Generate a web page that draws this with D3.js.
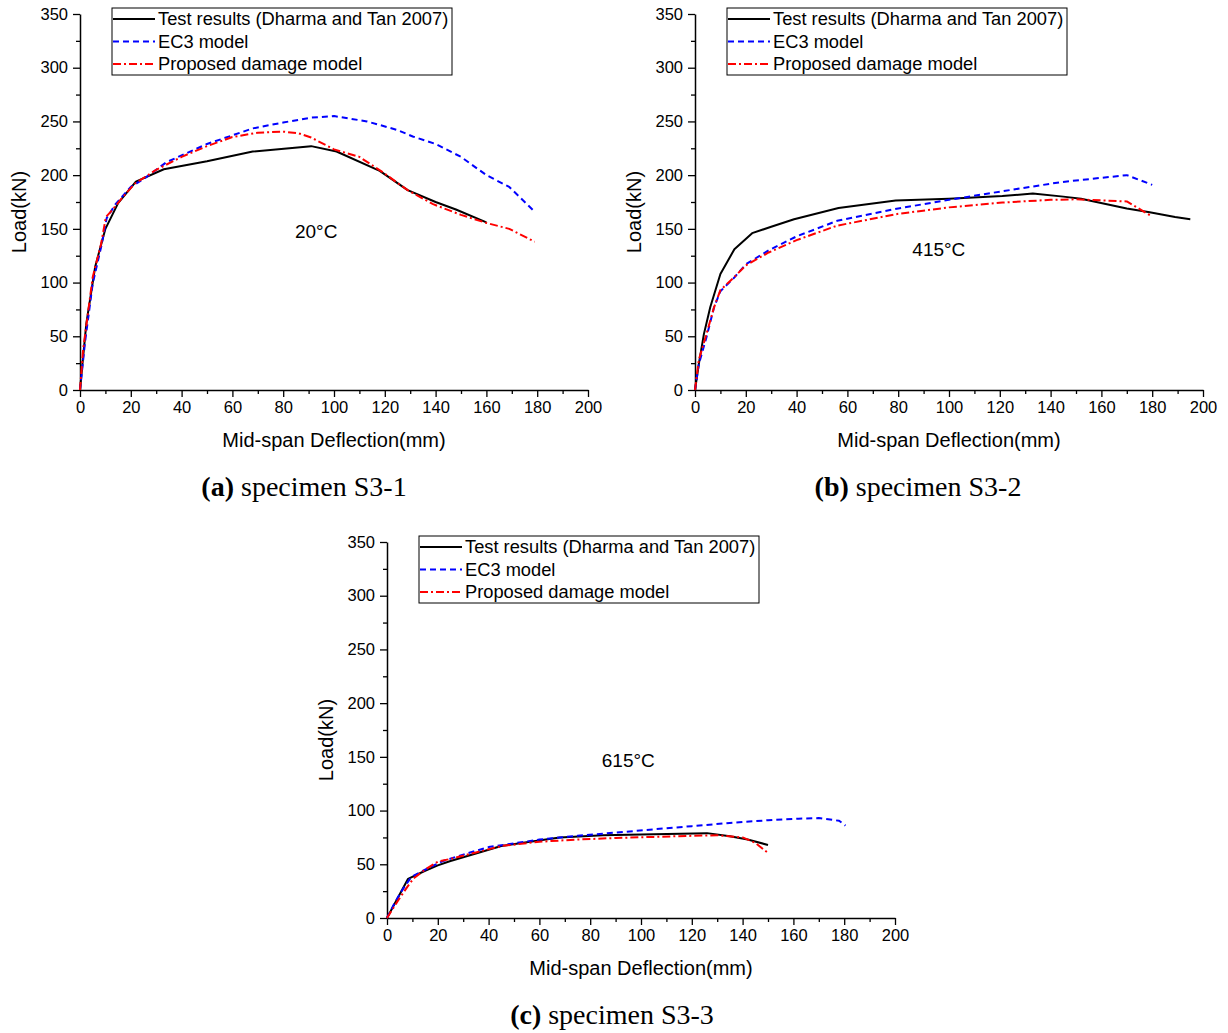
<!DOCTYPE html>
<html>
<head>
<meta charset="utf-8">
<script src="https://cdn.jsdelivr.net/npm/d3@7"></script>
<style>
  body { margin: 0; background: #fff; }
  text { font-family: "Liberation Sans", Arial, sans-serif; fill: #000; }
  text.caption { font-family: "Liberation Serif", "Times New Roman", serif; }
</style>
</head>
<body>
<div id="chart"></div>
<script>
(function() {

  let width  = 1228,
      height = 1033;

  // series names, shared by all three panels
  let seriesNames = ["Test results (Dharma and Tan 2007)", "EC3 model", "Proposed damage model"];

  let xTicks = [0, 20, 40, 60, 80, 100, 120, 140, 160, 180, 200];
  let yTicks = [0, 50, 100, 150, 200, 250, 300, 350];

  // (a) specimen S3-1, 20°C  -- [deflection mm, load kN]
  let testS31 = [[0,0],[1,25],[2.5,62],[6,115],[10,150],[15,174],[22,194],[33,205.5],[50,213],[68,222],
                 [91,227],[101,222],[118,204],[129,186],[140,175],[148,168],[160,156]];
  let ec3S31  = [[0,0],[2,45],[5,99],[8.5,135],[10.5,160],[14,173],[20,189],[26,198],[34,212],[50,229],
                 [68,243.5],[80,249],[91,253.5],[100,255],[113,250],[125,242],[131,236],[140,229],[150,217],
                 [160,200],[169,189],[179,166]];
  let dmgS31  = [[0,0],[1.2,37],[5,105],[8.3,136],[10.2,161],[12.5,167],[17,180],[21.5,192],[30,205],[40,217],
                 [50,227],[60,235.5],[70,239.5],[80,240.5],[86,239],[91,235],[100,224],[110,217],[119,203],
                 [129,186],[139,173],[150,163],[160,155.5],[169,150],[179,138]];

  // (b) specimen S3-2, 415°C
  let testS32 = [[0,0],[1.5,24],[3.5,52],[6,77],[10,108],[15.5,131],[22.5,146],[30,152],[39,159],[56.5,169.5],
                 [79,176.5],[100,178],[121,180.5],[133,183],[145,180],[152,178],[170,169],[179,165.5],[189,161],[195,159]];
  let ec3S32  = [[0,0],[1.5,24],[4.5,49],[7.5,77],[10,92],[15,103.5],[20,117],[29,130],[40,143],[56,157.5],
                 [80,169],[100,177],[121,185],[144,193.5],[170,200],[180,191]];
  let dmgS32  = [[0,0],[1.5,28],[4.5,52],[7.5,77],[10,93],[15,104],[20,116],[29,128],[40,139.5],[56,153],
                 [80,164],[100,170],[121,174.5],[140,177],[150,177.5],[170,175.5],[180,161.5]];

  // (c) specimen S3-3, 615°C
  let testS33 = [[0,0],[8.3,36.5],[15,44],[20,49],[25,53],[35,60],[45,67],[55,70.5],[68,75],[85,77],
                 [105,78],[126,79],[135,76],[142,73],[150,68]];
  let ec3S33  = [[0,0],[3,14],[6,26],[9.5,38],[15,45],[22,53],[30,59],[40,66],[50,69.5],[60,73],[75,76.5],
                 [90,79.5],[105,82.5],[120,85.5],[135,88.5],[150,91],[162,92.5],[170,93],[178,90.5],[180.5,86]];
  let dmgS33  = [[0,0],[4,15],[8,29],[10.5,37],[15,45],[20,52.5],[25,55],[35,61],[45,67],[60,71],[75,73],
                 [90,74.5],[105,75.5],[120,76.5],[130,77],[140,75],[145,70],[150,60.5]];

  // line styles for the three series
  let styles = [
    { color: "#000000", dash: null },
    { color: "#0000ff", dash: "6,4" },
    { color: "#ff0000", dash: "8,3,2,3" }
  ];

  // temperature label sits at (tx, ty) in data units
  let panels = [
    { left: 80,  top: 14,  label: "a", name: "specimen S3-1", temp: "20°C",  tx: 93, ty: 148, capX: 304, capY: 496,
      series: [testS31, ec3S31, dmgS31] },
    { left: 695, top: 14,  label: "b", name: "specimen S3-2", temp: "415°C", tx: 96, ty: 131, capX: 918, capY: 496,
      series: [testS32, ec3S32, dmgS32] },
    { left: 387, top: 542, label: "c", name: "specimen S3-3", temp: "615°C", tx: 95, ty: 147, capX: 612, capY: 1024,
      series: [testS33, ec3S33, dmgS33] }
  ];

  let plotW = 508,
      plotH = 376;

  let svg = d3.select("#chart")
    .append("svg")
    .attr("width", width)
    .attr("height", height);

  svg.append("rect")
    .attr("width", width)
    .attr("height", height)
    .attr("fill", "#fff");

  let x = d3.scaleLinear().domain([0, 200]).range([0, plotW]);
  let y = d3.scaleLinear().domain([0, 350]).range([plotH, 0]);

  let line = d3.line()
    .x(d => x(d[0]))
    .y(d => y(d[1]));

  panels.forEach(p => {
    let g = svg.append("g").attr("transform", `translate(${p.left},${p.top})`);

    // minor ticks
    g.append("g")
      .attr("transform", `translate(0,${plotH})`)
      .call(d3.axisBottom(x).tickValues(d3.range(10, 200, 20)).tickSize(4).tickFormat(""))
      .call(a => a.select(".domain").remove());
    g.append("g")
      .call(d3.axisLeft(y).tickValues(d3.range(25, 350, 50)).tickSize(4).tickFormat(""))
      .call(a => a.select(".domain").remove());

    // major ticks + axis lines
    let xa = g.append("g")
      .attr("transform", `translate(0,${plotH})`)
      .call(d3.axisBottom(x).tickValues(xTicks).tickSize(7).tickSizeOuter(0).tickPadding(4));
    let ya = g.append("g")
      .call(d3.axisLeft(y).tickValues(yTicks).tickSize(7).tickSizeOuter(0).tickPadding(5));

    [xa, ya].forEach(a => {
      a.attr("font-size", null).attr("font-family", null);
      a.selectAll("text").style("font-size", "16.5px");
      a.select(".domain").attr("stroke-width", 1.5);
    });
    g.selectAll(".tick line").attr("stroke-width", 1.3);

    // axis titles
    g.append("text")
      .attr("x", plotW / 2)
      .attr("y", plotH + 50)
      .attr("dy", "0.35em")
      .attr("text-anchor", "middle")
      .style("font-size", "20px")
      .text("Mid-span Deflection(mm)");

    g.append("text")
      .attr("transform", `translate(-61,${plotH / 2 + 10}) rotate(-90)`)
      .attr("dy", "0.35em")
      .attr("text-anchor", "middle")
      .style("font-size", "20px")
      .text("Load(kN)");

    // curves
    p.series.forEach((s, i) => {
      g.append("path")
        .datum(s)
        .attr("fill", "none")
        .attr("stroke", styles[i].color)
        .attr("stroke-width", 2)
        .attr("stroke-dasharray", styles[i].dash)
        .attr("stroke-linejoin", "round")
        .attr("d", line);
    });

    // temperature label
    g.append("text")
      .attr("x", x(p.tx))
      .attr("y", y(p.ty))
      .attr("dy", "0.35em")
      .attr("text-anchor", "middle")
      .style("font-size", "19px")
      .text(p.temp);

    // legend box
    let lg = g.append("g").attr("transform", "translate(32,-6)");
    lg.append("rect")
      .attr("width", 340)
      .attr("height", 67)
      .attr("fill", "#fff")
      .attr("stroke", "#000")
      .attr("stroke-width", 1);
    seriesNames.forEach((n, i) => {
      let yy = 11 + i * 22.5;
      lg.append("line")
        .attr("x1", 1).attr("x2", 43)
        .attr("y1", yy).attr("y2", yy)
        .attr("stroke", styles[i].color)
        .attr("stroke-width", 2)
        .attr("stroke-dasharray", styles[i].dash);
      lg.append("text")
        .attr("x", 46)
        .attr("y", yy)
        .attr("dy", "0.35em")
        .style("font-size", "18.3px")
        .text(n);
    });

    // caption under the panel
    let cap = svg.append("text")
      .attr("class", "caption")
      .attr("x", p.capX)
      .attr("y", p.capY)
      .attr("text-anchor", "middle")
      .style("font-size", "28px");
    cap.append("tspan").style("font-weight", "bold").text(`(${p.label})`);
    cap.append("tspan").text(" " + p.name);
  });

})();
</script>
</body>
</html>
